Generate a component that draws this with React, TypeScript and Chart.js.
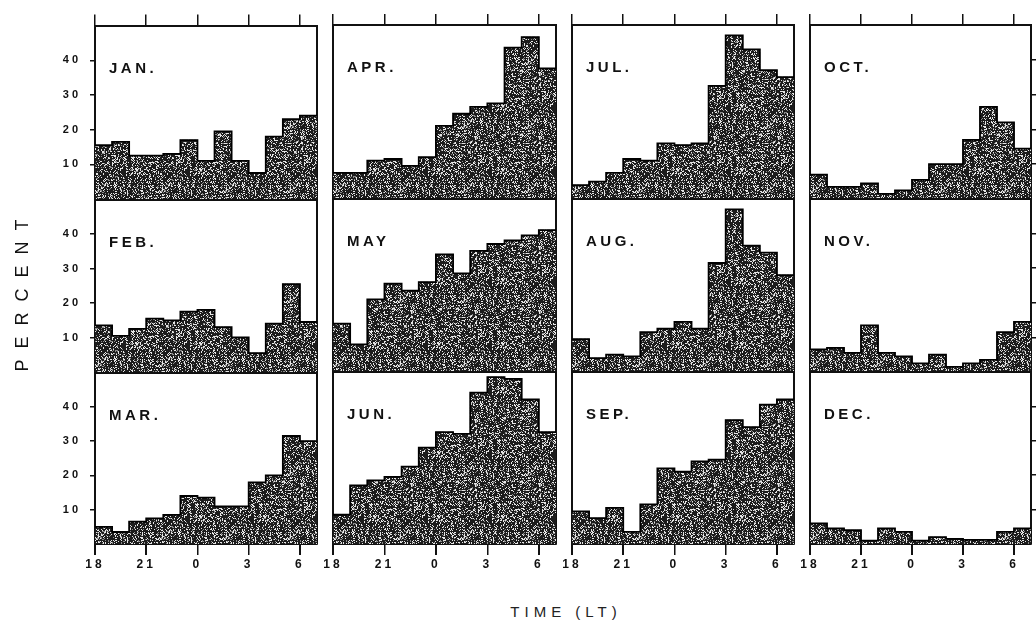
import React, { useEffect, useRef, useState } from 'react';
import { Chart, registerables } from 'chart.js';
Chart.register(...registerables);

// ---------- data ----------
const binStarts = [18, 19, 20, 21, 22, 23, 24, 25, 26, 27, 28, 29, 30]; // hour of bin start (24 = 0 LT)
const xTickValues = [18, 21, 24, 27, 30];
const xTickLabels = ['18', '21', '0', '3', '6'];
const yTickValues = [10, 20, 30, 40];

const JAN = [15.5, 16.5, 12.5, 12.5, 13, 17, 11, 19.5, 11, 7.5, 18, 23, 24];
const FEB = [13.5, 10.5, 12.5, 15.5, 15, 17.5, 18, 13, 10, 5.5, 14, 25.5, 14.5];
const MAR = [5, 3.5, 6.5, 7.5, 8.5, 14, 13.5, 11, 11, 18, 20, 31.5, 30];
const APR = [7.5, 7.5, 11, 11.5, 9.5, 12, 21, 24.5, 26.5, 27.5, 43.5, 46.5, 37.5];
const MAY = [14, 8, 21, 25.5, 23.5, 26, 34, 28.5, 35, 37, 38, 39.5, 41];
const JUN = [8.5, 17, 18.5, 19.5, 22.5, 28, 32.5, 32, 44, 48.5, 48, 42, 32.5];
const JUL = [4, 5, 7.5, 11.5, 11, 16, 15.5, 16, 32.5, 47, 43, 37, 35];
const AUG = [9.5, 4, 5, 4.5, 11.5, 12.5, 14.5, 12.5, 31.5, 47, 36.5, 34.5, 28];
const SEP = [9.5, 7.5, 10.5, 3.5, 11.5, 22, 21, 24, 24.5, 36, 34, 40.5, 42];
const OCT = [7, 3.5, 3.5, 4.5, 1.5, 2.5, 5.5, 10, 10, 17, 26.5, 22, 14.5];
const NOV = [6.5, 7, 5.5, 13.5, 5.5, 4.5, 2.5, 5, 1.5, 2.5, 3.5, 11.5, 14.5];
const DEC = [6, 4.5, 4, 1, 4.5, 3.5, 1, 2, 1.5, 1.2, 1.2, 3.5, 4.5];

const panels = [
  { name: 'JAN.', values: JAN, col: 0, row: 0 },
  { name: 'FEB.', values: FEB, col: 0, row: 1 },
  { name: 'MAR.', values: MAR, col: 0, row: 2 },
  { name: 'APR.', values: APR, col: 1, row: 0 },
  { name: 'MAY', values: MAY, col: 1, row: 1 },
  { name: 'JUN.', values: JUN, col: 1, row: 2 },
  { name: 'JUL.', values: JUL, col: 2, row: 0 },
  { name: 'AUG.', values: AUG, col: 2, row: 1 },
  { name: 'SEP.', values: SEP, col: 2, row: 2 },
  { name: 'OCT.', values: OCT, col: 3, row: 0 },
  { name: 'NOV.', values: NOV, col: 3, row: 1 },
  { name: 'DEC.', values: DEC, col: 3, row: 2 },
];

// ---------- layout ----------
const COL_LEFT = [95, 333, 572, 810];
const COL_RIGHT = [317, 556, 794, 1031];
const ROW_TOP = [25, 199, 372];
const ROW_BOTTOM = [199, 372, 544];
const M_L = 45, M_R = 12, M_T = 15, M_B = 35;
const TICK_BOTTOM = 11;

let patternCache: CanvasPattern | null = null;
function getPattern(ctx: CanvasRenderingContext2D) {
  if (patternCache) return patternCache;
  const c = document.createElement('canvas');
  c.width = 64; c.height = 64;
  const g = c.getContext('2d')!;
  g.fillStyle = '#1c1c1c';
  g.fillRect(0, 0, 64, 64);
  let s = 12345;
  const rnd = () => { s = (s * 1103515245 + 12345) & 0x7fffffff; return s / 0x7fffffff; };
  for (let y = 0; y < 64; y++) {
    for (let x = 0; x < 64; x++) {
      const r = rnd();
      if (r < 0.2) { g.fillStyle = '#e6e6e6'; g.fillRect(x, y, 1, 1); }
      else if (r < 0.3) { g.fillStyle = '#8a8a8a'; g.fillRect(x, y, 1, 1); }
    }
  }
  patternCache = ctx.createPattern(c, 'repeat');
  return patternCache;
}

const FONT = '"Liberation Sans", Arial, sans-serif';
const xTicksBuild = (s: any) => { s.ticks = xTickValues.map((v) => ({ value: v })); };
const yTicksBuild = (s: any) => { s.ticks = yTickValues.map((v) => ({ value: v })); };

function Panel({ name, values, col, row }: { name: string; values: number[]; col: number; row: number }) {
  const ref = useRef<HTMLCanvasElement>(null);
  const [marks, setMarks] = useState<{ x: number; y: number }[]>([]);
  const px = COL_LEFT[col], py = ROW_TOP[row];
  const pw = COL_RIGHT[col] - px, ph = ROW_BOTTOM[row] - py;
  const W = pw + M_L + M_R, H = ph + M_T + M_B;
  const left = px - M_L, top = py - M_T;
  const isLeft = col === 0, isRight = col === 3, isTop = row === 0, isBottom = row === 2;

  useEffect(() => {
    const canvas = ref.current!;
    const ctx = canvas.getContext('2d')!;
    const pattern = getPattern(ctx);
    const barData = values.map((v, i) => ({ x: binStarts[i] + 0.5, y: v }));
    const lineData = values.map((v, i) => ({ x: binStarts[i], y: v }));
    lineData.push({ x: binStarts[binStarts.length - 1] + 1, y: values[values.length - 1] });

    const mkBorder = () => ({ display: true, color: '#111', width: 2 });

    const chart = new Chart(canvas, {
      type: 'bar',
      data: {
        datasets: [
          {
            type: 'line',
            data: lineData,
            stepped: 'before',
            borderColor: '#000',
            borderWidth: 1.8,
            pointRadius: 0,
            fill: false,
            xAxisID: 'x',
            yAxisID: 'y',
            order: 1,
          } as any,
          {
            type: 'bar',
            data: barData,
            backgroundColor: pattern as any,
            borderWidth: 0,
            barPercentage: 1,
            categoryPercentage: 1,
            xAxisID: 'x',
            yAxisID: 'y',
            order: 2,
          } as any,
        ],
      },
      options: {
        responsive: false,
        animation: false,
        events: [],
        layout: { padding: 0 },
        plugins: { legend: { display: false }, tooltip: { enabled: false }, title: { display: false } },
        scales: {
          x: {
            type: 'linear', position: 'bottom', min: 18, max: 31, offset: false, display: false,
            grid: { offset: false },
          },
          xTicks: {
            type: 'linear', position: 'bottom', min: 18, max: 31, offset: false,
            afterBuildTicks: xTicksBuild,
            afterFit: (s: any) => { s.height = TICK_BOTTOM; },
            ticks: { display: false },
            grid: { offset: false, drawOnChartArea: false, drawTicks: isBottom, tickLength: TICK_BOTTOM, color: '#111', lineWidth: 1.5 },
            border: mkBorder(),
          },
          xLab: {
            type: 'linear', position: 'bottom', min: 18, max: 31, offset: false,
            afterBuildTicks: xTicksBuild,
            afterFit: (s: any) => { s.height = M_B - TICK_BOTTOM; },
            ticks: {
              display: isBottom, autoSkip: false, maxRotation: 0, padding: 2,
              color: '#111', font: { family: FONT, size: 12, weight: 'bold' },
              callback: (v: any) => { const i = xTickValues.indexOf(Number(v)); return i >= 0 ? xTickLabels[i] : ''; },
            },
            grid: { display: false, drawOnChartArea: false, drawTicks: false },
            border: { display: false },
          },
          xTop: {
            type: 'linear', position: 'top', min: 18, max: 31, offset: false,
            afterBuildTicks: xTicksBuild,
            afterFit: (s: any) => { s.height = M_T; },
            ticks: { display: false },
            grid: { offset: false, drawOnChartArea: false, drawTicks: isTop, tickLength: 11, color: '#111', lineWidth: 1.5 },
            border: mkBorder(),
          },
          y: {
            type: 'linear', position: 'left', min: 0, max: 50,
            afterBuildTicks: yTicksBuild,
            afterFit: (s: any) => { s.width = M_L; },
            ticks: {
              display: isLeft, padding: 9, color: '#111',
              font: { family: FONT, size: 11, weight: 'bold' },
            },
            grid: { drawOnChartArea: false, drawTicks: isLeft, tickLength: 5, color: '#111', lineWidth: 1.5 },
            border: mkBorder(),
          },
          y2: {
            type: 'linear', position: 'right', min: 0, max: 50,
            afterBuildTicks: yTicksBuild,
            afterFit: (s: any) => { s.width = M_R; },
            ticks: { display: false },
            grid: { drawOnChartArea: false, drawTicks: isRight, tickLength: 5, color: '#111', lineWidth: 1.5 },
            border: mkBorder(),
          },
        } as any,
      },
      plugins: [
        {
          id: 'spacing',
          beforeDraw: (c: any) => { (c.ctx as any).letterSpacing = '3px'; },
        },
        {
          id: 'monthLabel',
          afterDatasetsDraw: (c: any) => {
            const g = c.ctx as CanvasRenderingContext2D;
            const a = c.chartArea;
            g.save();
            (g as any).letterSpacing = '3.5px';
            g.font = `bold 15px ${FONT}`;
            g.fillStyle = '#111';
            g.textAlign = 'left';
            g.textBaseline = 'alphabetic';
            g.fillText(name, a.left + 14, a.top + 47);
            g.restore();
          },
        },
      ],
    } as any);

    if (isBottom) {
      const s = chart.scales.xLab as any;
      const yb = chart.chartArea.bottom;
      setMarks(xTickValues.map((v) => ({ x: s.getPixelForValue(v), y: yb })));
    }
    return () => chart.destroy();
  }, []);

  return (
    <>
      <canvas
        ref={ref}
        width={W}
        height={H}
        style={{ position: 'absolute', left, top, width: W, height: H }}
      />
      {marks.map((m, i) => (
        <div
          key={i}
          style={{
            position: 'absolute', left: left + m.x - 0.75, top: top + m.y, width: 1.5, height: TICK_BOTTOM,
            background: '#111', zIndex: 10,
          }}
        />
      ))}
    </>
  );
}

export default function App() {
  return (
    <div style={{ position: 'fixed', left: 0, top: 0, width: 1036, height: 623, background: '#fff', overflow: 'hidden' }}>
      {panels.map((p) => (
        <Panel key={p.name} {...p} />
      ))}
      <div
        style={{
          position: 'absolute', left: 22, top: 290, transform: 'translate(-50%, -50%) rotate(-90deg)',
          fontFamily: FONT, fontSize: 18, letterSpacing: 11, color: '#111', whiteSpace: 'nowrap',
        }}
      >
        PERCENT
      </div>
      <div
        style={{
          position: 'absolute', left: 566, top: 611, transform: 'translate(-50%, -50%)',
          fontFamily: FONT, fontSize: 15, letterSpacing: 5, color: '#222', whiteSpace: 'nowrap',
        }}
      >
        TIME (LT)
      </div>
    </div>
  );
}
